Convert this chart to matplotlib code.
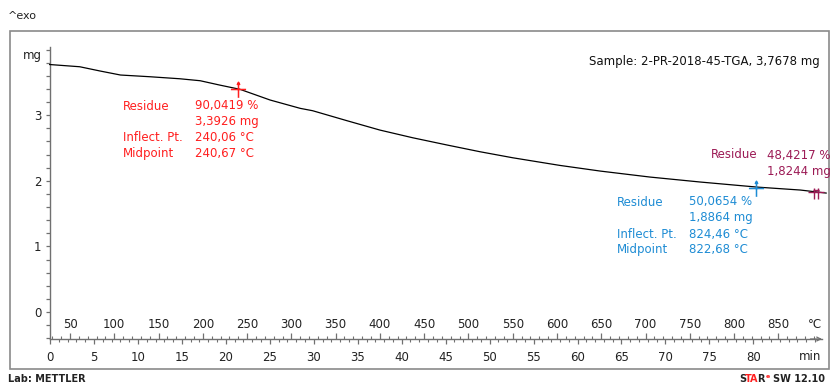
import numpy as np
import matplotlib
matplotlib.use('Agg')
import matplotlib.pyplot as plt
from matplotlib.path import Path
from matplotlib.patches import Rectangle
from matplotlib.ticker import MultipleLocator

# TGA curve: sample temperature (°C) vs mass (mg)
temp_c = [27, 61, 84, 107, 140, 174, 197, 219, 242, 276, 310, 324, 363, 400,
          437, 476, 513, 550, 603, 649, 705, 762, 826, 875, 904]
mass_mg = [3.773, 3.739, 3.674, 3.613, 3.587, 3.556, 3.526, 3.460, 3.395, 3.232,
           3.105, 3.069, 2.916, 2.774, 2.657, 2.546, 2.444, 2.352, 2.236, 2.149,
           2.058, 1.982, 1.905, 1.860, 1.814]

# evaluated steps
step1_inflect = 240.06
step1_mass = 3.3926
step2_inflect = 824.46
step2_mass = 1.8864
final_temp = 892
final_mass = 1.8244

step1_lines = [('Residue', '90,0419 %'), ('', '3,3926 mg'),
               ('Inflect. Pt.', '240,06 °C'), ('Midpoint', '240,67 °C')]
step2_lines = [('Residue', '50,0654 %'), ('', '1,8864 mg'),
               ('Inflect. Pt.', '824,46 °C'), ('Midpoint', '822,68 °C')]
final_lines = [('Residue', '48,4217 %'), ('', '1,8244 mg')]

temp_ticks = list(range(50, 900, 50))
time_ticks = list(range(0, 85, 5))
mass_ticks = [0, 1, 2, 3, 4]
mass_labels = ['0', '1', '2', '3', '']

RED = '#ff1f1f'
BLUE = '#1e8cd4'
PURPLE = '#9c1a55'
AX = '#707070'

# heating program: °C <-> min
T0, RATE = 27.4, 9.93
def to_min(t):
    return (np.asarray(t) - T0) / RATE
def to_degc(m):
    return np.asarray(m) * RATE + T0

W, H = 833, 386
plt.rcParams['font.family'] = 'DejaVu Sans'
plt.rcParams['font.size'] = 8
fig = plt.figure(figsize=(W / 100, H / 100), dpi=100)

def fx(px):
    return px / W
def fy(py):
    return 1 - py / H

# axes box in pixels: x 50..822, y 47..339
ax = fig.add_axes([fx(50), fy(339), (822 - 50) / W, (339 - 47) / H])
ax.set_xlim(T0, T0 + 772 / 0.8854)
ax.set_ylim(-0.41, 4.04)

ax.plot(temp_c, mass_mg, color='black', lw=0.9, clip_on=False, zorder=3)

# step markers
cross = Path([(-1, 0), (1, 0), (0, -1.1), (0, 0.9), (-0.18, 0.6), (0, 0.95), (0.18, 0.6)],
             [Path.MOVETO, Path.LINETO, Path.MOVETO, Path.LINETO,
              Path.MOVETO, Path.LINETO, Path.LINETO])
dbl = Path([(-1, 0), (1, 0), (-0.2, -0.8), (-0.2, 0.5), (0.2, -0.8), (0.2, 0.5),
            (-0.4, 0.25), (0.4, 0.25)],
           [Path.MOVETO, Path.LINETO, Path.MOVETO, Path.LINETO,
            Path.MOVETO, Path.LINETO, Path.MOVETO, Path.LINETO])
ax.plot([step1_inflect], [step1_mass], marker=cross, ms=12, mew=1.1,
        color=RED, mfc='none', zorder=4, clip_on=False)
ax.plot([step2_inflect], [step2_mass], marker=cross, ms=12, mew=1.1,
        color=BLUE, mfc='none', zorder=4, clip_on=False)
ax.plot([final_temp], [final_mass], marker=dbl, ms=12, mew=1.0,
        color=PURPLE, mfc='none', zorder=4, clip_on=False)

# spines
for s in ['top', 'right']:
    ax.spines[s].set_visible(False)
for s in ['left', 'bottom']:
    ax.spines[s].set_color(AX)
    ax.spines[s].set_linewidth(1.0)
ax.annotate('', xy=(1.0, 0), xytext=(0.985, 0), xycoords='axes fraction',
            arrowprops=dict(arrowstyle='->', color=AX, lw=0.9,
                            mutation_scale=7, shrinkA=0, shrinkB=0))

# y axis
ax.set_yticks(mass_ticks)
ax.set_yticklabels(mass_labels)
ax.yaxis.set_minor_locator(MultipleLocator(0.2))
ax.tick_params(axis='y', which='both', direction='out', length=3, color=AX,
               width=0.9, pad=3, labelsize=8.5, labelcolor='#222222')
fig.text(fx(42), fy(55), 'mg', ha='right', va='center', fontsize=8.5, color='#222222')

# temperature axis: ticks upward, labels above the line
ax.set_xticks(temp_ticks)
ax.xaxis.set_minor_locator(MultipleLocator(10))
ax.tick_params(axis='x', which='major', direction='in', length=4, width=0.9,
               color=AX, pad=-15, labelsize=8.5, labelcolor='#222222')
ax.tick_params(axis='x', which='minor', direction='in', length=2.5, width=0.8, color=AX)

# time axis: ticks downward, labels below the line
sec = ax.secondary_xaxis('bottom', functions=(to_min, to_degc))
sec.set_xticks(time_ticks)
sec.xaxis.set_minor_locator(MultipleLocator(1))
sec.spines['bottom'].set_visible(False)
sec.tick_params(axis='x', which='major', direction='out', length=3.5, width=0.9,
                color=AX, pad=5, labelsize=8.5, labelcolor='#222222')
sec.tick_params(axis='x', which='minor', direction='out', length=2, width=0.8, color=AX)

fig.text(fx(815), fy(324), '°C', ha='center', va='center', fontsize=8.5, color='#222222')
fig.text(fx(810), fy(357), 'min', ha='center', va='center', fontsize=8.5, color='#222222')

# result blocks
def block(lines, x_lab, x_val, y0, color):
    for i, (lab, val) in enumerate(lines):
        y = fy(y0 + 16 * i)
        if lab:
            fig.text(fx(x_lab), y, lab, ha='left', va='center', color=color, fontsize=8.5)
        fig.text(fx(x_val), y, val, ha='left', va='center', color=color, fontsize=8.5)

block(step1_lines, 123, 195, 106, RED)
block(step2_lines, 617, 689, 202, BLUE)
block(final_lines, 711, 767, 155, PURPLE)

fig.text(fx(589), fy(62), 'Sample: 2-PR-2018-45-TGA, 3,7678 mg', ha='left', va='center',
         fontsize=8.5, color='#111111')
fig.text(fx(8), fy(16), '^exo', ha='left', va='center', fontsize=8, color='#222222')

# outer frame and footer
fig.add_artist(Rectangle((fx(10), fy(369)), (829 - 10) / W, (369 - 31) / H,
                         transform=fig.transFigure, fill=False, edgecolor='#8a8a8a', lw=1.2))
fig.text(fx(8), fy(379), 'Lab: METTLER', ha='left', va='center', fontsize=7,
         fontweight='bold', color='#222222')

# STARe logo pieces laid out left to right
x = 739
for part, col, dy, size, gap in [('S', '#222222', 0, 7, -1.5), ('TA', '#ff2020', 0, 7, -0.5),
                                 ('R', '#222222', 0, 7, 0.6), ('e', '#ff2020', -3, 4.5, 3.5),
                                 ('SW 12.10', '#222222', 0, 7, 0)]:
    t = fig.text(fx(x), fy(379 + dy), part, ha='left', va='center', fontsize=size,
                 fontweight='bold', color=col)
    fig.canvas.draw()
    x = t.get_window_extent().x1 + gap

fig.savefig('out.png', dpi=100)
